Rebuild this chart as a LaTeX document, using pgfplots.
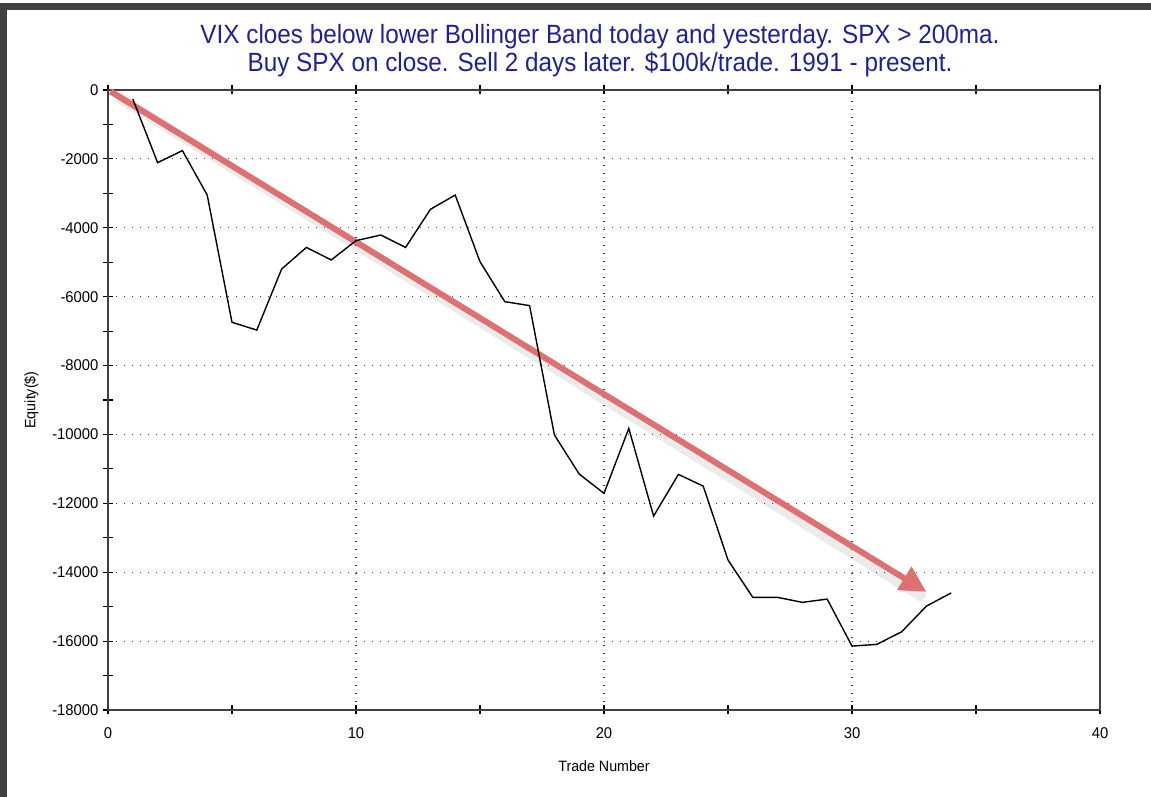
\documentclass[border=0pt]{standalone}
\usepackage{pgfplots}
\pgfplotsset{compat=1.18}
\usepackage{fontspec}
\setmainfont{Liberation Sans}
\newfontfamily\titlefont[FakeStretch=0.92]{Liberation Sans}
\newfontfamily\tickfont[FakeStretch=0.95]{Liberation Sans}
\usetikzlibrary{arrows.meta}
\definecolor{titleblue}{RGB}{32,32,155}
\definecolor{arrowred}{RGB}{222,112,112}
\definecolor{framegray}{RGB}{64,64,64}
\begin{document}
\begin{tikzpicture}
\begin{axis}[
  scale only axis, width=496pt, height=310pt,
  xmin=0, xmax=40, ymin=-18000, ymax=0,
  xtick={0,10,20,30,40}, minor xtick={5,15,25,35},
  ytick={-18000,-16000,...,0}, minor ytick={-17000,-15000,...,-1000},
  scaled y ticks=false,
  xtick pos=both, ytick pos=left,
  tick align=center,
  major tick length=4.5pt, minor tick length=4.5pt,
  every tick/.style={black, line width=0.6pt},
  axis line style={framegray, line width=1pt},
  grid=major,
  major grid style={black!75, line width=0.6pt, dash pattern=on 0.6pt off 3.4pt},
  /pgf/number format/assume math mode=true,
  /pgf/number format/1000 sep={},
  ticklabel style={font=\tickfont\fontsize{7.8}{9}\selectfont},
  xticklabel style={yshift=-3pt},
  yticklabel style={xshift=1pt},
  xlabel={Trade Number}, ylabel={Equity(\$)},
  label style={font=\tickfont\fontsize{7.5}{9}\selectfont},
  xlabel style={yshift=-4pt},
  ylabel style={yshift=0pt},
  clip=false,
]
\addplot[draw=black, opacity=0.08, line width=5pt, forget plot] coordinates {(0.4,-200) (32.9,-14750)};
\addplot[draw=arrowred, line width=3pt, -{Triangle[length=13pt, width=13pt]}] coordinates {(0.1,-40) (33.0,-14570)};
\addplot[black, line width=0.7pt] coordinates {
(1,-260) (2,-2110) (3,-1760) (4,-3050) (5,-6745) (6,-6970) (7,-5200) (8,-4570)
(9,-4935) (10,-4375) (11,-4210) (12,-4570) (13,-3465) (14,-3050) (15,-4985)
(16,-6145) (17,-6260) (18,-10015) (19,-11150) (20,-11710) (21,-9825) (22,-12370)
(23,-11160) (24,-11500) (25,-13645) (26,-14730) (27,-14730) (28,-14875) (29,-14780)
(30,-16145) (31,-16095) (32,-15730) (33,-14985) (34,-14600)
};
\end{axis}
\node[font=\titlefont\fontsize{13.2}{15}\selectfont, text=titleblue] at ([xshift=-2pt,yshift=26.5pt]current axis.north) {VIX cloes below lower Bollinger Band today and yesterday. SPX > 200ma.};
\node[font=\titlefont\fontsize{13.2}{15}\selectfont, text=titleblue] at ([xshift=-2pt,yshift=12.8pt]current axis.north) {Buy SPX on close. Sell 2 days later. \$100k/trade. 1991 - present.};
\path[use as bounding box] ([xshift=-54pt,yshift=-43.5pt]current axis.south west) rectangle ([xshift=25.5pt,yshift=45pt]current axis.north east);
\fill[framegray] ([xshift=-54pt,yshift=-43.5pt]current axis.south west) rectangle ([xshift=-50.5pt,yshift=43.5pt]current axis.north west);
\fill[framegray] ([xshift=-54pt,yshift=43.5pt]current axis.north west) rectangle ([xshift=25.5pt,yshift=40pt]current axis.north east);
\end{tikzpicture}
\end{document}
